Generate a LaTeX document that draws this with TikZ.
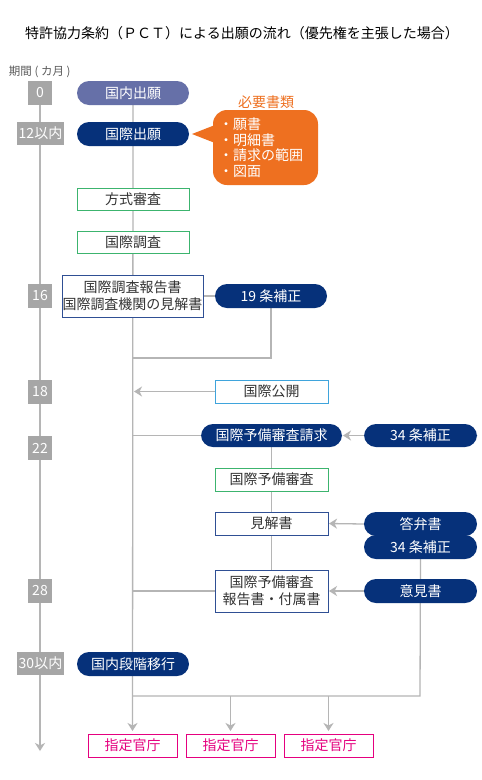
\documentclass[tikz,border=0pt]{standalone}
\usepackage{fontspec}
\setmainfont{Noto Sans CJK JP}
\usetikzlibrary{arrows.meta}
\pgfdeclarelayer{background}
\pgfsetlayers{background,main}
\definecolor{navy}{HTML}{06317A}
\definecolor{slate}{HTML}{6670A8}
\definecolor{tgray}{HTML}{A6A6A6}
\definecolor{lgray}{HTML}{B5B5B5}
\definecolor{txt}{HTML}{333333}
\definecolor{gbord}{HTML}{3CB46E}
\definecolor{nbord}{HTML}{2F4F94}
\definecolor{bbord}{HTML}{3FA4DC}
\definecolor{pink}{HTML}{E5007F}
\definecolor{orange}{HTML}{EE7020}
\newcommand\myfs[2]{\fontsize{#1}{#2}\selectfont}
\begin{document}
\begin{tikzpicture}[x=1pt,y=-1pt,
  every node/.style={inner sep=0pt, outer sep=0pt},
  pill/.style={fill=navy, text=white, rounded corners=12pt, minimum height=24pt, minimum width=112pt, font=\myfs{14}{17}},
  wbox/.style={draw, fill=white, line width=1pt, text=txt, font=\myfs{14}{17}, minimum height=23pt, minimum width=113pt, align=center},
  tl/.style={fill=tgray, text=white, minimum height=24pt, minimum width=24pt, font=\myfs{14}{16}},
  ln/.style={draw=lgray, line width=1.3pt},
  arr/.style={ln, -{Stealth[length=8pt,width=10pt,inset=2.5pt]}},
]
\useasboundingbox (0,0) rectangle (482,780);

% title
\node[font=\myfs{14}{17}, text=black] (title) at (242,33) {特許協力条約（ＰＣＴ）による出願の流れ（優先権を主張した場合）};
\node[font=\myfs{11.5}{13}, text=txt!80, anchor=west] (period) at (9,72) {期間 ( カ月 )};

% timeline boxes
\node[tl] (t0) at (40,93) {0};
\node[tl, minimum width=47pt, minimum height=23pt] (t12) at (40.5,133.5) {12以内};
\node[tl] (t16) at (40,296) {16};
\node[tl] (t18) at (40,391.5) {18};
\node[tl] (t22) at (40,448) {22};
\node[tl] (t28) at (40,591) {28};
\node[tl, minimum width=47pt, minimum height=23pt] (t30) at (40.5,663.5) {30以内};
\coordinate (tend) at (40,751);

% main column
\node[pill, fill=slate] (dom) at (133,93) {国内出願};
\node[pill] (intl) at (133,134) {国際出願};
\node[wbox, draw=gbord, minimum width=112pt, minimum height=22pt] (hoshiki) at (133,199) {方式審査};
\node[wbox, draw=gbord, minimum width=112pt, minimum height=22pt] (chosa) at (133,242) {国際調査};
\node[wbox, draw=nbord, minimum width=141pt, minimum height=42pt] (report) at (132.5,296) {国際調査報告書\\国際調査機関の見解書};
\node[pill] (a19) at (271,296) {19 条補正};
\node[wbox, draw=bbord] (kokai) at (271.5,391.5) {国際公開};
\node[pill, minimum width=141pt, minimum height=23pt] (seikyu) at (271.5,435.5) {国際予備審査請求};
\node[pill, minimum width=113pt, minimum height=23pt] (a34a) at (420.5,435.5) {34 条補正};
\node[wbox, draw=gbord] (yobi) at (271.5,479.5) {国際予備審査};
\node[wbox, draw=nbord] (kenkai) at (271.5,523.5) {見解書};
\node[pill, minimum width=113pt] (tobensho) at (420.5,524) {答弁書};
\node[pill, minimum width=113pt] (a34b) at (420.5,547) {34 条補正};
\node[wbox, draw=nbord, minimum height=42pt] (ipr) at (271.5,591) {国際予備審査\\報告書・付属書};
\node[pill, minimum width=113pt] (iken) at (420.5,591) {意見書};
\node[pill] (kokunai) at (133,664) {国内段階移行};

% designated offices
\node[wbox, draw=pink, text=pink, minimum width=89pt] (s1) at (132.5,745.5) {指定官庁};
\node[wbox, draw=pink, text=pink, minimum width=89pt] (s2) at (230.5,745.5) {指定官庁};
\node[wbox, draw=pink, text=pink, minimum width=89pt] (s3) at (328.5,745.5) {指定官庁};

% callout
\node[fill=orange, rounded corners=14pt, minimum width=105pt, minimum height=75pt] (docs) at (265.5,147.5) {};
\fill[orange] (215,125) -- (192,134) -- (215,143) -- cycle;
\node[text=white, font=\myfs{14}{15.5}, align=left, anchor=north west] (doclist) at (219,118) {・願書\\・明細書\\・請求の範囲\\・図面};
\node[text=orange, font=\myfs{14}{16}] (doclabel) at (266,102) {必要書類};

% connectors
\coordinate (j19) at (272,358);
\coordinate (c19) at (133,358);
\coordinate (c18) at (133,391.5);
\coordinate (c22) at (133,435.5);
\coordinate (c28) at (133,591);
\coordinate (j30) at (420,696);
\coordinate (c30) at (133,696);
\coordinate (b2) at (230.5,696);
\coordinate (b3) at (328.5,696);
\begin{pgfonlayer}{background}
\fill[white] (0,0) rectangle (482,780);
\draw[arr] (t0.south) -- (tend);
\draw[arr, shorten >=3pt] (dom.south) -- (s1.north);
\draw[ln] (report.east) -- (a19.west);
\draw[ln] (a19.south) |- (c19);
\draw[arr, shorten >=1pt] (kokai.west) -- (c18);
\draw[ln] (c22) -- (seikyu.west);
\draw[arr, shorten >=1pt] (a34a.west) -- (seikyu.east);
\draw[ln] (seikyu.south) -- (yobi.north);
\draw[ln] (yobi.south) -- (kenkai.north);
\draw[ln] (kenkai.south) -- (ipr.north);
\draw[arr, shorten >=1pt] (tobensho.west) -- (kenkai.east);
\draw[arr, shorten >=1pt] (iken.west) -- (ipr.east);
\draw[ln] (c28) -- (ipr.west);
\draw[ln] (a34b.south) -- (j30) -- (c30);
\draw[arr, shorten >=3pt] (b2) -- (s2.north);
\draw[arr, shorten >=3pt] (b3) -- (s3.north);
\end{pgfonlayer}
\end{tikzpicture}
\end{document}
